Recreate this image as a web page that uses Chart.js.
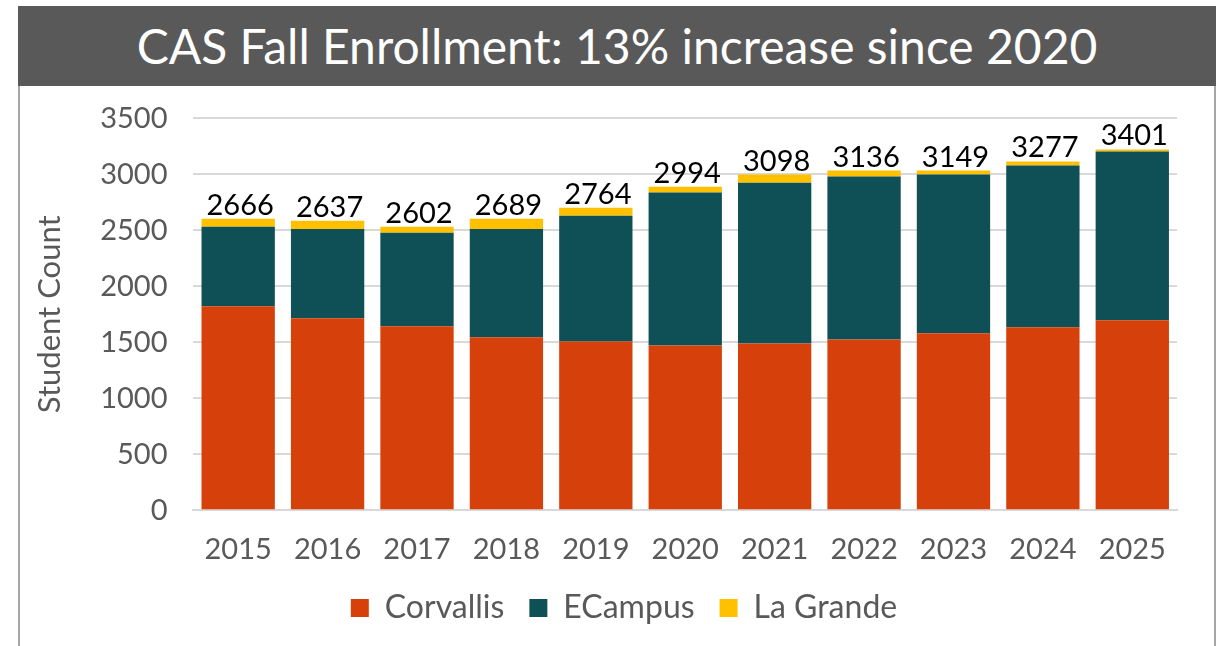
<!DOCTYPE html>
<html>
<head>
<meta charset="utf-8">
<script src="https://cdn.jsdelivr.net/npm/chart.js@4"></script>
<style>
  body { margin: 0; background: #fff; }
  #wrap { position: absolute; left: 18px; top: 6px; width: 1198px; height: 640px; }
  #band { position: relative; z-index: 2; height: 80px; background: #595959; color: #fff;
          font-family: Lato, sans-serif; font-size: 48px; text-align: center; line-height: 80px; }
  #box { position: absolute; top: 69px; left: 0; width: 1194px; height: 571px;
         border-left: 2px solid #a6a6a6; border-right: 2px solid #a6a6a6; }
</style>
</head>
<body>
<div id="wrap">
  <div id="band">CAS Fall Enrollment: 13% increase since 2020</div>
  <div id="box"><canvas id="chartjs1"></canvas></div>
</div>
<script>
const years = ['2015','2016','2017','2018','2019','2020','2021','2022','2023','2024','2025'];
const corvallis = [1822, 1714, 1643, 1544, 1508, 1472, 1490, 1526, 1580, 1634, 1697];
const ecampus   = [709, 799, 835, 969, 1122, 1365, 1436, 1454, 1418, 1445, 1508];
const laGrande  = [72, 72, 53, 90, 72, 53, 72, 54, 36, 36, 18];
const totals    = ['2666','2637','2602','2689','2764','2994','3098','3136','3149','3277','3401'];

// totals written over the top of each stack
const topLabels = {
  id: 'topLabels',
  afterLayout(chart) {
    // nudge legend a bit right, like the original
    chart.legend.left += 20;
    chart.legend.right += 20;
  },
  afterDatasetsDraw(chart) {
    const ctx = chart.ctx;
    const last = chart.getDatasetMeta(chart.data.datasets.length - 1);
    ctx.save();
    ctx.font = '29px Lato';
    ctx.fillStyle = '#000';
    ctx.textAlign = 'center';
    ctx.textBaseline = 'alphabetic';
    last.data.forEach((bar, i) => {
      ctx.fillText(totals[i], bar.x + 2, bar.y - 4);
    });
    ctx.restore();
  }
};

var myChart = new Chart(document.getElementById('chartjs1'), {
  type: 'bar',
  data: {
    labels: years,
    datasets: [
      { label: 'Corvallis', data: corvallis, backgroundColor: '#D6400A' },
      { label: 'ECampus', data: ecampus, backgroundColor: '#0F5057' },
      { label: 'La Grande', data: laGrande, backgroundColor: '#FFC000' }
    ]
  },
  options: {
    responsive: true,
    maintainAspectRatio: false,
    animation: false,
    layout: { padding: { top: 19, left: 11, right: 37, bottom: 12 } },
    datasets: { bar: { barPercentage: 0.82, categoryPercentage: 1 } },
    plugins: {
      legend: {
        position: 'bottom',
        labels: { font: { family: 'Lato', size: 32 }, color: '#595959',
                  boxWidth: 18, boxHeight: 18, padding: 25 }
      },
      tooltip: { enabled: false }
    },
    scales: {
      x: {
        stacked: true,
        grid: { display: false, drawTicks: false },
        border: { color: '#d9d9d9', width: 2 },
        ticks: { font: { family: 'Lato', size: 29 }, color: '#595959', padding: 22 },
        afterFit(scale) { scale.height -= 22; }
      },
      y: {
        stacked: true,
        min: 0, max: 3500,
        ticks: { stepSize: 500, font: { family: 'Lato', size: 29 }, color: '#595959', padding: 26,
                 callback: v => String(v) },
        grid: { color: '#d9d9d9', lineWidth: 2, drawTicks: false },
        border: { display: false },
        title: { display: true, text: 'Student Count', font: { family: 'Lato', size: 31 },
                 color: '#595959', padding: { top: 0, bottom: 6 } }
      }
    }
  },
  plugins: [topLabels]
});
</script>
</body>
</html>
